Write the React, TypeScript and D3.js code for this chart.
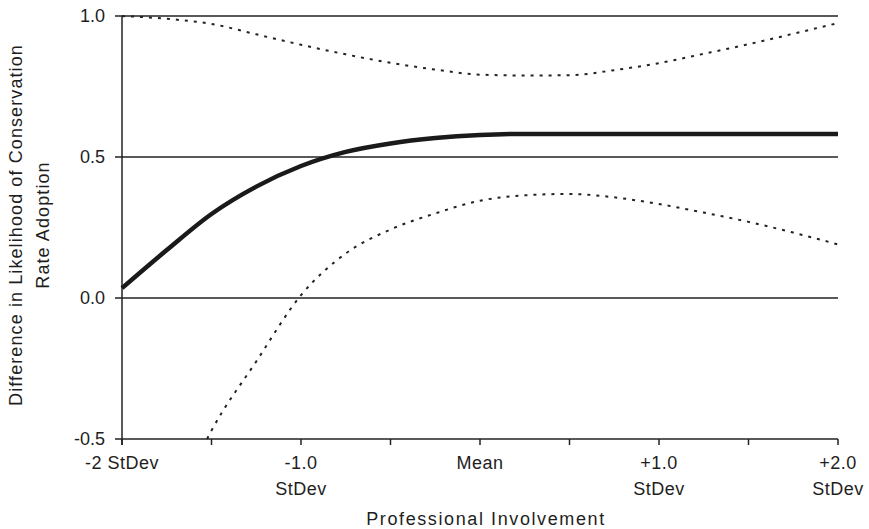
import React from "react";
import * as d3 from "d3";

// Professional involvement, in standard deviations from the mean
const xSteps = [-2, -1.75, -1.5, -1.25, -1, -0.75, -0.5, -0.25, 0, 0.25, 0.5, 0.75, 1, 1.25, 1.5, 1.75, 2];
// Estimated difference in likelihood of adoption
const estimate = [0.035, 0.17, 0.298, 0.395, 0.468, 0.518, 0.548, 0.567, 0.578, 0.582, 0.582, 0.582, 0.582, 0.582, 0.582, 0.582, 0.582];
// Upper confidence bound
const upperBound = [1.0, 0.99, 0.972, 0.935, 0.898, 0.864, 0.834, 0.81, 0.792, 0.789, 0.79, 0.808, 0.833, 0.866, 0.9, 0.937, 0.975];
// Lower confidence bound (starts where it enters the plotted range)
const lowerX = [-1.525, -1.5, -1.25, -1, -0.75, -0.5, -0.25, 0, 0.25, 0.5, 0.75, 1, 1.25, 1.5, 1.75, 2];
const lowerBound = [-0.5, -0.47, -0.225, 0.01, 0.158, 0.243, 0.3, 0.345, 0.364, 0.369, 0.357, 0.333, 0.303, 0.27, 0.232, 0.19];

const yTicks = [-0.5, 0.0, 0.5, 1.0];
const gridLevels = [0.0, 0.5, 1.0];
const xMajorTicks = [-2, -1, 0, 1, 2];
const xMinorTicks = [-1.5, -0.5, 0.5, 1.5];
const xTickLabels = [["-2 StDev"], ["-1.0", "StDev"], ["Mean"], ["+1.0", "StDev"], ["+2.0", "StDev"]];
const yTitle = ["Difference in Likelihood of Conservation", "Rate Adoption"];
const xTitle = "Professional Involvement";

const W = 869;
const H = 529;
const font = "Arial, 'Liberation Sans', sans-serif";

// one decimal, with a plain hyphen for negatives
const fmt = d3.formatLocale({ decimal: ".", thousands: ",", grouping: [3], currency: ["", ""], minus: "-" }).format(".1f");

export default function App() {
  const x = d3.scaleLinear().domain([-2, 2]).range([122, 838]);
  const y = d3.scaleLinear().domain([-0.5, 1.0]).range([439, 16]);

  const line = d3
    .line<[number, number]>()
    .x((d) => x(d[0]))
    .y((d) => y(d[1]))
    .curve(d3.curveMonotoneX);

  const estPts = xSteps.map((v, i) => [v, estimate[i]] as [number, number]);
  const upPts = xSteps.map((v, i) => [v, upperBound[i]] as [number, number]);
  const loPts = lowerX.map((v, i) => [v, lowerBound[i]] as [number, number]);

  const ink = "#222";
  const textInk = "#1e1e1e";

  return (
    <svg
      width={W}
      height={H}
      style={{ position: "absolute", left: 0, top: 0, background: "#fff" }}
      fontFamily={font}
    >
      {/* horizontal reference lines */}
      {gridLevels.map((g) => (
        <line key={g} x1={x(-2)} x2={x(2)} y1={y(g)} y2={y(g)} stroke={ink} strokeWidth={1.5} />
      ))}

      {/* axes */}
      <line x1={x(-2)} x2={x(-2)} y1={y(1.0)} y2={y(-0.5) + 6} stroke={ink} strokeWidth={1.5} />
      <line x1={x(-2)} x2={x(2)} y1={y(-0.5)} y2={y(-0.5)} stroke={ink} strokeWidth={1.5} />

      {/* y ticks */}
      {yTicks.map((t) => (
        <g key={t}>
          <line x1={x(-2) - 7} x2={x(-2)} y1={y(t)} y2={y(t)} stroke={ink} strokeWidth={1.5} />
          <text x={105} y={y(t)} dy="0.36em" textAnchor="end" fontSize={18} fill={textInk}>
            {fmt(t)}
          </text>
        </g>
      ))}

      {/* x ticks */}
      {[...xMajorTicks, ...xMinorTicks].map((t) => (
        <line key={t} x1={x(t)} x2={x(t)} y1={y(-0.5)} y2={y(-0.5) + 6} stroke={ink} strokeWidth={1.5} />
      ))}
      {xMajorTicks.map((t, i) => (
        <text key={t} x={x(t)} y={469} textAnchor="middle" fontSize={18} fill={textInk} letterSpacing={0.5}>
          {xTickLabels[i].map((s, j) => (
            <tspan key={j} x={x(t)} dy={j === 0 ? 0 : 26}>
              {s}
            </tspan>
          ))}
        </text>
      ))}

      {/* confidence bounds */}
      <path d={line(upPts) || ""} fill="none" stroke="#222" strokeWidth={2} strokeDasharray="3,6" />
      <path d={line(loPts) || ""} fill="none" stroke="#222" strokeWidth={2} strokeDasharray="3,6" />

      {/* estimate */}
      <path d={line(estPts) || ""} fill="none" stroke="#1a1a1a" strokeWidth={4.5} />

      {/* axis titles */}
      <text x={486} y={525} textAnchor="middle" fontSize={18} fill={textInk} letterSpacing={1.6}>
        {xTitle}
      </text>
      <text transform="translate(22,225) rotate(-90)" textAnchor="middle" fontSize={18} fill={textInk} letterSpacing={1.1}>
        <tspan x={0} dy={0}>{yTitle[0]}</tspan>
        <tspan x={0} dy={27}>{yTitle[1]}</tspan>
      </text>
    </svg>
  );
}
